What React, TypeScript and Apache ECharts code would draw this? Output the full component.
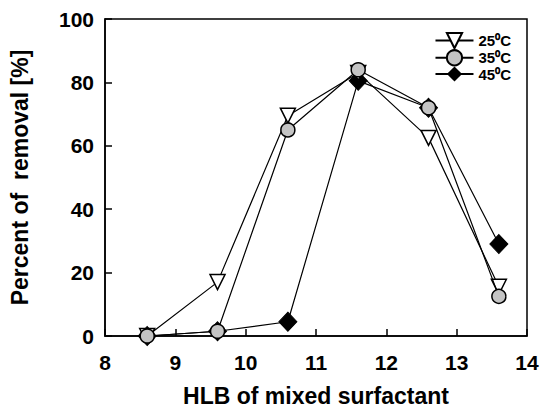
import React, { useEffect, useRef } from "react";
import * as echarts from "echarts";

const hlb = [8.6, 9.6, 10.6, 11.6, 12.6, 13.6];
const s25 = [0, 17, 69.5, 83, 62.5, 15.5];
const s35 = [0, 1.5, 65, 84, 72, 12.5];
const s45 = [0, 1.5, 4.5, 80.5, 72, 29];
const seriesNames = ["25⁰C", "35⁰C", "45⁰C"];

const pairs = (ys: number[]) => hlb.map((x, i) => [x, ys[i]]);

export default function App() {
  const ref = useRef<HTMLDivElement>(null);
  useEffect(() => {
    if (!ref.current) return;
    const chart = echarts.init(ref.current, null, { renderer: "svg" });
    const font = "Liberation Sans";
    const base = {
      type: "line",
      lineStyle: { color: "#000", width: 1.2 },
      z: 2,
    };
    chart.setOption({
      animation: false,
      backgroundColor: "#fff",
      textStyle: { fontFamily: font },
      grid: {
        left: 103,
        right: 17,
        top: 19,
        bottom: 71,
        show: true,
        borderColor: "#000",
        borderWidth: 1.5,
      },
      legend: {
        right: 28,
        top: 27,
        orient: "vertical",
        itemWidth: 38,
        itemHeight: 19,
        itemGap: 0,
        textStyle: { fontFamily: font, fontWeight: "bold", fontSize: 15, color: "#000" },
        data: seriesNames,
      },
      xAxis: {
        type: "value",
        min: 8,
        max: 14,
        interval: 1,
        name: "HLB of mixed surfactant",
        nameLocation: "middle",
        nameGap: 48,
        nameTextStyle: { fontFamily: font, fontWeight: "bold", fontSize: 23, color: "#000" },
        axisLine: { show: true, lineStyle: { color: "#000", width: 1.5 } },
        axisTick: { show: true, inside: true, length: 7, lineStyle: { color: "#000", width: 1.5 } },
        axisLabel: { fontFamily: font, fontWeight: "bold", fontSize: 21, color: "#000", margin: 16 },
        splitLine: { show: false },
      },
      yAxis: {
        type: "value",
        min: 0,
        max: 100,
        interval: 20,
        name: "Percent of  removal [%]",
        nameLocation: "middle",
        nameGap: 74,
        nameTextStyle: { fontFamily: font, fontWeight: "bold", fontSize: 23, color: "#000" },
        axisLine: { show: true, lineStyle: { color: "#000", width: 1.5 } },
        axisTick: { show: true, inside: true, length: 7, lineStyle: { color: "#000", width: 1.5 } },
        axisLabel: { fontFamily: font, fontWeight: "bold", fontSize: 21, color: "#000", margin: 11 },
        splitLine: { show: false },
      },
      series: [
        {
          ...base,
          name: seriesNames[2],
          data: pairs(s45),
          symbol: "diamond",
          symbolSize: [18, 19],
          itemStyle: { color: "#000", borderColor: "#000" },
          z: 3,
        },
        {
          ...base,
          name: seriesNames[0],
          data: pairs(s25),
          symbol: "triangle",
          symbolRotate: 180,
          symbolSize: 15,
          itemStyle: { color: "#fff", borderColor: "#000", borderWidth: 1.5 },
          z: 4,
        },
        {
          ...base,
          name: seriesNames[1],
          data: pairs(s35),
          symbol: "circle",
          symbolSize: 14,
          itemStyle: { color: "#c4c4c4", borderColor: "#000", borderWidth: 1.5 },
          z: 5,
        },
      ],
    });
    return () => chart.dispose();
  }, []);
  return (
    <div
      ref={ref}
      style={{ position: "absolute", left: 0, top: 0, width: 544, height: 412 }}
    />
  );
}
